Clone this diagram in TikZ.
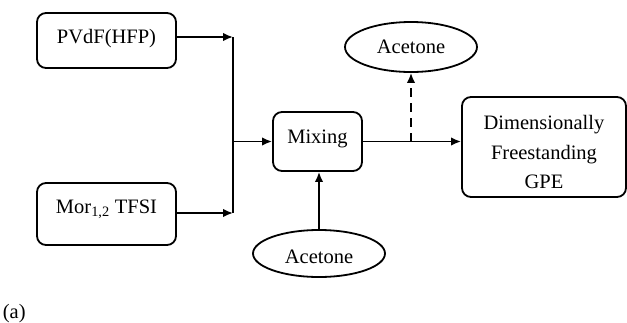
\documentclass[tikz,border=0pt]{standalone}
\usepackage{fontspec}
\setmainfont{Liberation Serif}
\usetikzlibrary{arrows.meta,shapes.geometric}
\begin{document}
\begin{tikzpicture}[x=1pt,y=-1pt,
  font=\fontsize{20.5}{29.5}\selectfont,
  line width=1.8pt,
  box/.style={draw,rectangle,rounded corners=9pt,align=center,inner sep=2pt},
  oval/.style={draw,ellipse,inner sep=0pt,minimum width=132pt},
  arr/.style={-{Latex[length=10pt,width=8.5pt]}},
  dashline/.style={dash pattern=on 9pt off 6pt}]
  \useasboundingbox (0,0) rectangle (627,322);

  % input boxes
  \node[box,minimum width=139pt,minimum height=55pt,text height=14pt,text depth=8.5pt]
    (pvdf) at (106.5,40.5) {PVdF(HFP)};
  \node[box,minimum width=139pt,minimum height=62pt,text height=14pt,text depth=16pt]
    (mor) at (106.5,214) {Mor\textsubscript{1,2} TFSI};
  % mixing step and product
  \node[box,minimum width=89pt,minimum height=59pt,text height=14pt,text depth=11pt]
    (mix) at (317.5,141.5) {Mixing};
  \node[box,minimum width=164pt,minimum height=100pt] (gpe) at (544,147)
    {\rule{0pt}{25pt}Dimensionally\\Freestanding\\GPE};
  % solvent in / out
  \node[oval,minimum height=50pt] (acout) at (411,47) {Acetone};
  \node[oval,minimum height=47pt,text height=19pt,text depth=0pt] (acin) at (319,253.5) {Acetone};

  % merge of the two inputs
  \coordinate (j1) at (233,37);
  \coordinate (j2) at (233,213);
  \coordinate (jm) at (233,141.5);
  \draw[arr] (pvdf.east |- j1) -- (j1);
  \draw[arr] (mor.east |- j2) -- (j2);
  \draw (j1) -- (j2);
  \draw[arr] (jm) -- (mix.west);

  % mixing to product, acetone evaporated
  \draw[arr] (mix.east) -- (gpe.west |- mix.east);
  \draw[arr,dashline] (acout.south |- mix.east) -- (acout.south);
  \draw[arr] (acin.north) -- (acin.north |- mix.south);

  % panel label
  \node[anchor=base west,inner sep=0pt] (lbl) at (2,318) {(a)};
\end{tikzpicture}
\end{document}
